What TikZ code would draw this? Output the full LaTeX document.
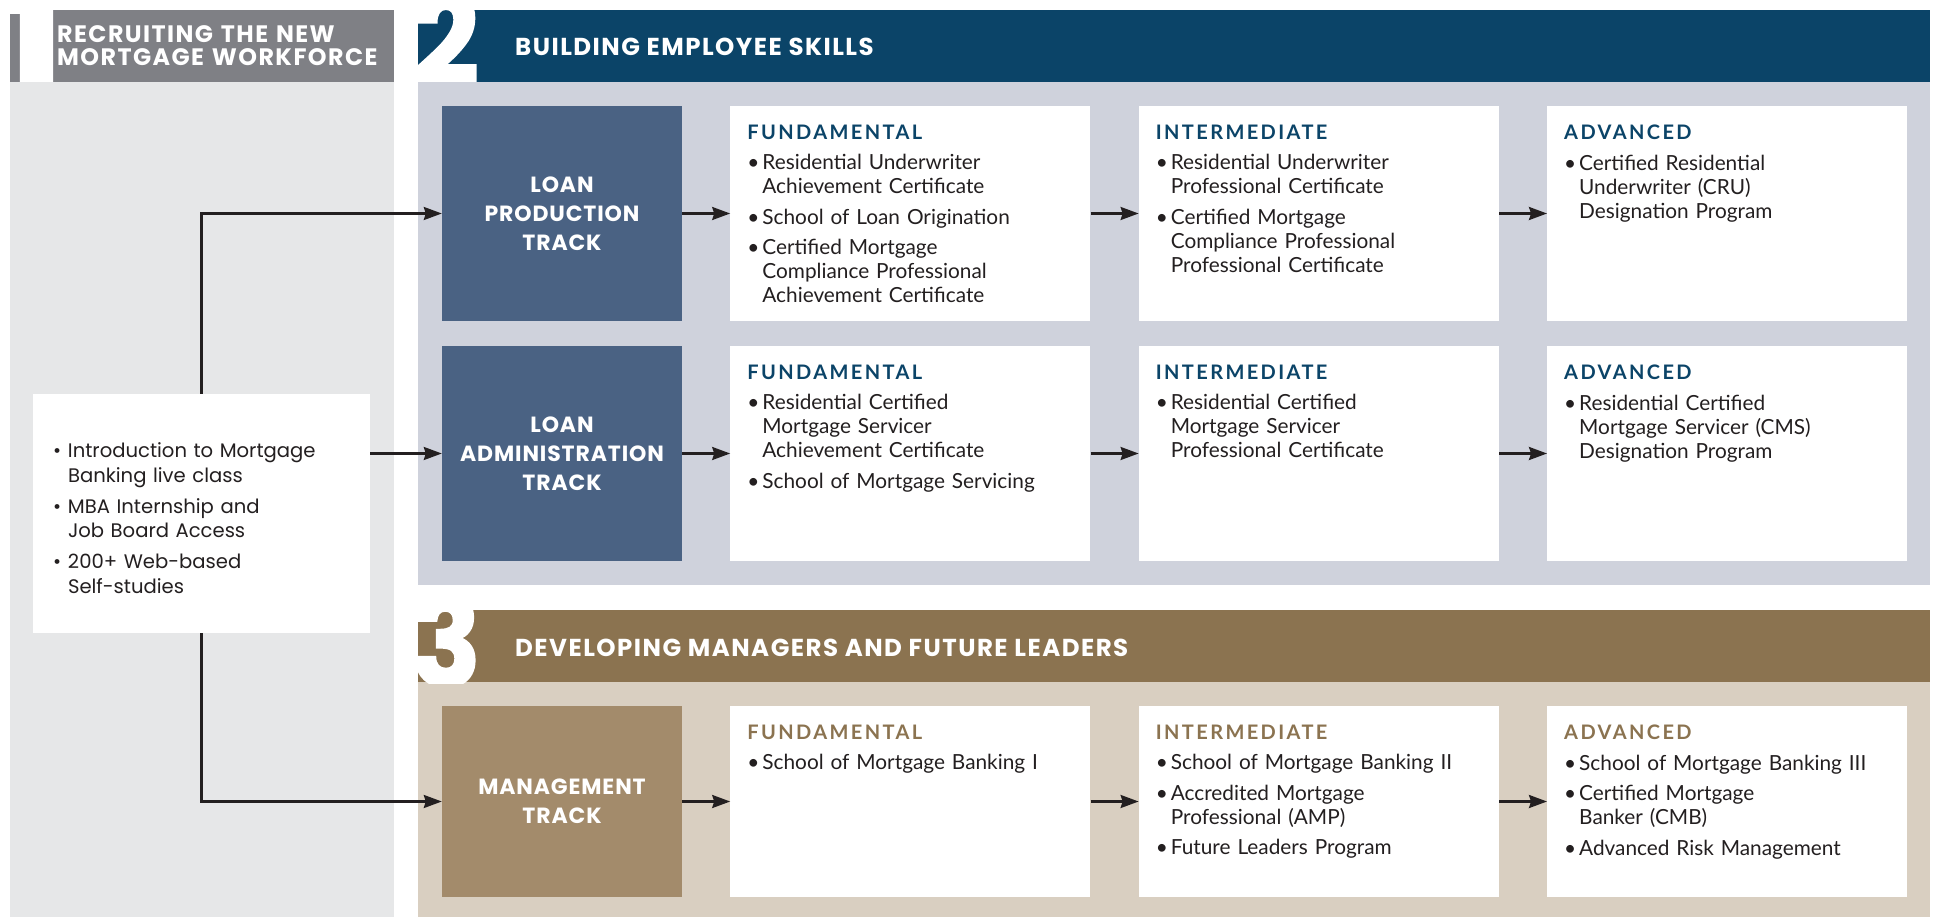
\documentclass[tikz,border=0pt]{standalone}
\usepackage{fontspec}
\setmainfont{Lato}
\newfontfamily\popfont{Poppins}
\newfontfamily\headfam[LetterSpace=6]{Poppins}
\newfontfamily\trackfam[LetterSpace=4]{Poppins}
\newfontfamily\digfam[FakeBold=2]{Poppins}
\newfontfamily\lvlfam[LetterSpace=12]{Lato}
\usetikzlibrary{arrows.meta,positioning}
\setlength{\parindent}{0pt}

\definecolor{hdgray}{HTML}{7F8085}
\definecolor{panelgray}{HTML}{E6E7E8}
\definecolor{navy}{HTML}{0B4468}
\definecolor{panelblue}{HTML}{CFD2DC}
\definecolor{trackblue}{HTML}{4A6283}
\definecolor{hdbrown}{HTML}{8B7350}
\definecolor{paneltan}{HTML}{D9CFC1}
\definecolor{tracktan}{HTML}{A38B6B}
\definecolor{ink}{HTML}{231F20}

% bullet items with hanging indent
\newcommand{\fitm}[1]{\par\noindent\hangindent=15pt\hangafter=1\hbox to 15pt{\textbullet\hss}#1\par}
\newcommand{\itm}[1]{\par\vspace{6.5pt}\fitm{#1}}
\newcommand{\lvl}[2]{{\noindent\color{#1}\lvlfam\bfseries\fontsize{20}{24}\selectfont #2\par}}

\tikzset{
  trackbox/.style={fill=#1, minimum width=240pt, minimum height=215pt, inner sep=0pt,
    text=white, align=center, font=\trackfam\bfseries\fontsize{22}{29}\selectfont},
  stepbox/.style={fill=white, minimum width=360pt, minimum height=#1, inner sep=0pt},
  stepbox/.default=215pt,
  steptext/.style={anchor=north west, text width=335pt, inner sep=0pt, text=ink,
    font=\fontsize{20.8}{24}\selectfont},
  headtext/.style={anchor=base west, inner sep=0pt, text=white, align=left,
    font=\headfam\bfseries\fontsize{24.5}{24.5}\selectfont},
  digit/.style={anchor=base west, inner sep=0pt, text=white,
    font=\digfam\bfseries\fontsize{125}{125}\selectfont},
  arr/.style={draw=ink, line width=2.4pt, -{Stealth[length=18pt,width=13pt,inset=2pt]}}
}

\begin{document}
\begin{tikzpicture}[x=1pt,y=-1pt]
\fill[white] (0,0) rectangle (1935,917);
\useasboundingbox (0,0) rectangle (1935,917);

% panels and header bars
\fill[hdgray] (10,10) rectangle (394,82);
\fill[panelgray] (10,82) rectangle (394,917);
\fill[navy] (418,10) rectangle (1930,82);
\fill[panelblue] (418,82) rectangle (1930,585);
\fill[hdbrown] (418,610) rectangle (1930,682);
\fill[paneltan] (418,682) rectangle (1930,917);

% big numbers
\begin{scope}
\clip (10,10) rectangle (394,82);
\node[digit] (n1) at (0,84) {\scalebox{1.35}[1]{1}};
\end{scope}
\begin{scope}
\clip (418,10) rectangle (600,82);
\node[digit] (n2) at (413,84) {\scalebox{0.92}[1]{2}};
\end{scope}
\begin{scope}
\clip (418,610) rectangle (600,683);
\node[digit] (n3) at (411,686) {\scalebox{0.92}[1]{3}};
\end{scope}

\node[headtext, text width=330pt, font=\headfam\bfseries\fontsize{23.8}{22.7}\selectfont] (h1) at (57,43) {RECRUITING THE NEW\\MORTGAGE WORKFORCE};
\node[headtext] (h2) at (515,56) {BUILDING EMPLOYEE SKILLS};
\node[headtext] (h3) at (515,656) {DEVELOPING MANAGERS AND FUTURE LEADERS};

% tracks
\node[trackbox=trackblue] (lp) at (562,213.5) {LOAN\\PRODUCTION\\TRACK};
\node[trackbox=trackblue] (la) at (562,453.5) {LOAN\\ADMINISTRATION\\TRACK};
\node[trackbox=tracktan, minimum height=191pt] (mt) at (562,801.5) {MANAGEMENT\\TRACK};

\node[stepbox, right=48pt of lp] (fp1) {};
\node[stepbox, right=48pt of fp1] (ip1) {};
\node[stepbox, right=48pt of ip1] (ap1) {};
\node[stepbox, right=48pt of la] (fp2) {};
\node[stepbox, right=48pt of fp2] (ip2) {};
\node[stepbox, right=48pt of ip2] (ap2) {};
\node[stepbox=191pt, right=48pt of mt] (fp3) {};
\node[stepbox=191pt, right=48pt of fp3] (ip3) {};
\node[stepbox=191pt, right=48pt of ip3] (ap3) {};

\node[steptext] (fp1t) at ([shift={(17,19)}]fp1.north west) {\lvl{navy}{FUNDAMENTAL}
  \itm{Residential Underwriter\newline Achievement Certificate}
  \itm{School of Loan Origination}
  \itm{Certified Mortgage\newline Compliance Professional\newline Achievement Certificate}};
\node[steptext] (ip1t) at ([shift={(17,19)}]ip1.north west) {\lvl{navy}{INTERMEDIATE}
  \itm{Residential Underwriter\newline Professional Certificate}
  \itm{Certified Mortgage\newline Compliance Professional\newline Professional Certificate}};
\node[steptext] (ap1t) at ([shift={(17,19)}]ap1.north west) {\lvl{navy}{ADVANCED}
  \itm{Certified Residential\newline Underwriter (CRU)\newline Designation Program}};

\node[steptext] (fp2t) at ([shift={(17,19)}]fp2.north west) {\lvl{navy}{FUNDAMENTAL}
  \itm{Residential Certified\newline Mortgage Servicer\newline Achievement Certificate}
  \itm{School of Mortgage Servicing}};
\node[steptext] (ip2t) at ([shift={(17,19)}]ip2.north west) {\lvl{navy}{INTERMEDIATE}
  \itm{Residential Certified\newline Mortgage Servicer\newline Professional Certificate}};
\node[steptext] (ap2t) at ([shift={(17,19)}]ap2.north west) {\lvl{navy}{ADVANCED}
  \itm{Residential Certified\newline Mortgage Servicer (CMS)\newline Designation Program}};

\node[steptext] (fp3t) at ([shift={(17,19)}]fp3.north west) {\lvl{hdbrown}{FUNDAMENTAL}
  \itm{School of Mortgage Banking I}};
\node[steptext] (ip3t) at ([shift={(17,19)}]ip3.north west) {\lvl{hdbrown}{INTERMEDIATE}
  \itm{School of Mortgage Banking II}
  \itm{Accredited Mortgage\newline Professional (AMP)}
  \itm{Future Leaders Program}};
\node[steptext] (ap3t) at ([shift={(17,19)}]ap3.north west) {\lvl{hdbrown}{ADVANCED}
  \itm{School of Mortgage Banking III}
  \itm{Certified Mortgage\newline Banker (CMB)}
  \itm{Advanced Risk Management}};

% recruiting box
\node[fill=white, minimum width=337pt, minimum height=239pt, inner sep=0pt] (intro) at (201.5,513.5) {};
\node[anchor=west, text width=300pt, inner sep=0pt, text=ink, font=\popfont\fontsize{19.6}{24.5}\selectfont]
  (introt) at ([xshift=20pt]intro.west) {\fitm{Introduction to Mortgage\newline Banking live class}
  \itm{MBA Internship and\newline Job Board Access}
  \itm{200+ Web-based\newline Self-studies}};

\foreach \a/\b in {lp/fp1,fp1/ip1,ip1/ap1,la/fp2,fp2/ip2,ip2/ap2,mt/fp3,fp3/ip3,ip3/ap3}
  \draw[arr] (\a) -- (\b);
\draw[arr] (intro.east |- la) -- (la);
\draw[arr] (intro.north) |- (lp);
\draw[arr] (intro.south) |- (mt);
\end{tikzpicture}
\end{document}
